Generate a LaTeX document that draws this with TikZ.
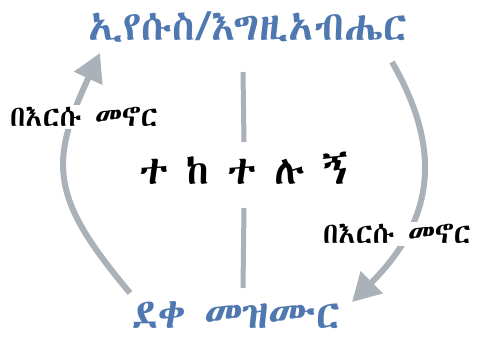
\documentclass[tikz,border=0pt]{standalone}
\usepackage{fontspec}
\usetikzlibrary{arrows.meta,positioning,calc}
\definecolor{eblue}{RGB}{79,119,176}
\definecolor{egris}{RGB}{170,177,184}
\newfontfamily\ethfont{Abyssinica SIL}
\begin{document}
\begin{tikzpicture}[x=1pt,y=1pt,
  lbl/.style={font=\ethfont\fontsize{41}{41}\selectfont, text=eblue, inner sep=0pt},
  side/.style={font=\ethfont\fontsize{29}{29}\selectfont, fill=white, inner sep=2pt},
  flow/.style={egris, line width=6pt, -{Triangle[width=30pt,length=28pt]}},
  bar/.style={egris, line width=5pt}]
  \useasboundingbox (0,0) rectangle (477,-345);
  % Top and bottom
  \node[lbl] (god) at (248,-27) {ኢየሱስ/እግዚአብሔር};
  \node[lbl] (disc) at (236,-315) {ደቀ መዝሙር};
  % Centre
  \node[font=\ethfont\fontsize{40}{40}\selectfont, inner sep=0pt] (follow) at (244,-168) {ተ ከ ተ ሉ ኝ};
  \coordinate (bartop) at (243,-72);
  \coordinate (barbot) at (243,-288);
  \draw[bar] (bartop) -- ([yshift=26pt]follow.center);
  \draw[bar] ([yshift=-40pt]follow.center) -- (barbot);
  % Cycle
  \draw[flow] ([shift={(-106,22)}]disc.center) to[out=130,in=245,looseness=1.3] ([shift={(-148,-26)}]god.center);
  \draw[flow] ([shift={(144,-35)}]god.center) to[out=-60,in=45,looseness=1.15] ([shift={(116,13)}]disc.center);
  \node[side] (abide1) at (84,-117) {በእርሱ መኖር};
  \node[side] (abide2) at (397,-234) {በእርሱ መኖር};
\end{tikzpicture}
\end{document}
